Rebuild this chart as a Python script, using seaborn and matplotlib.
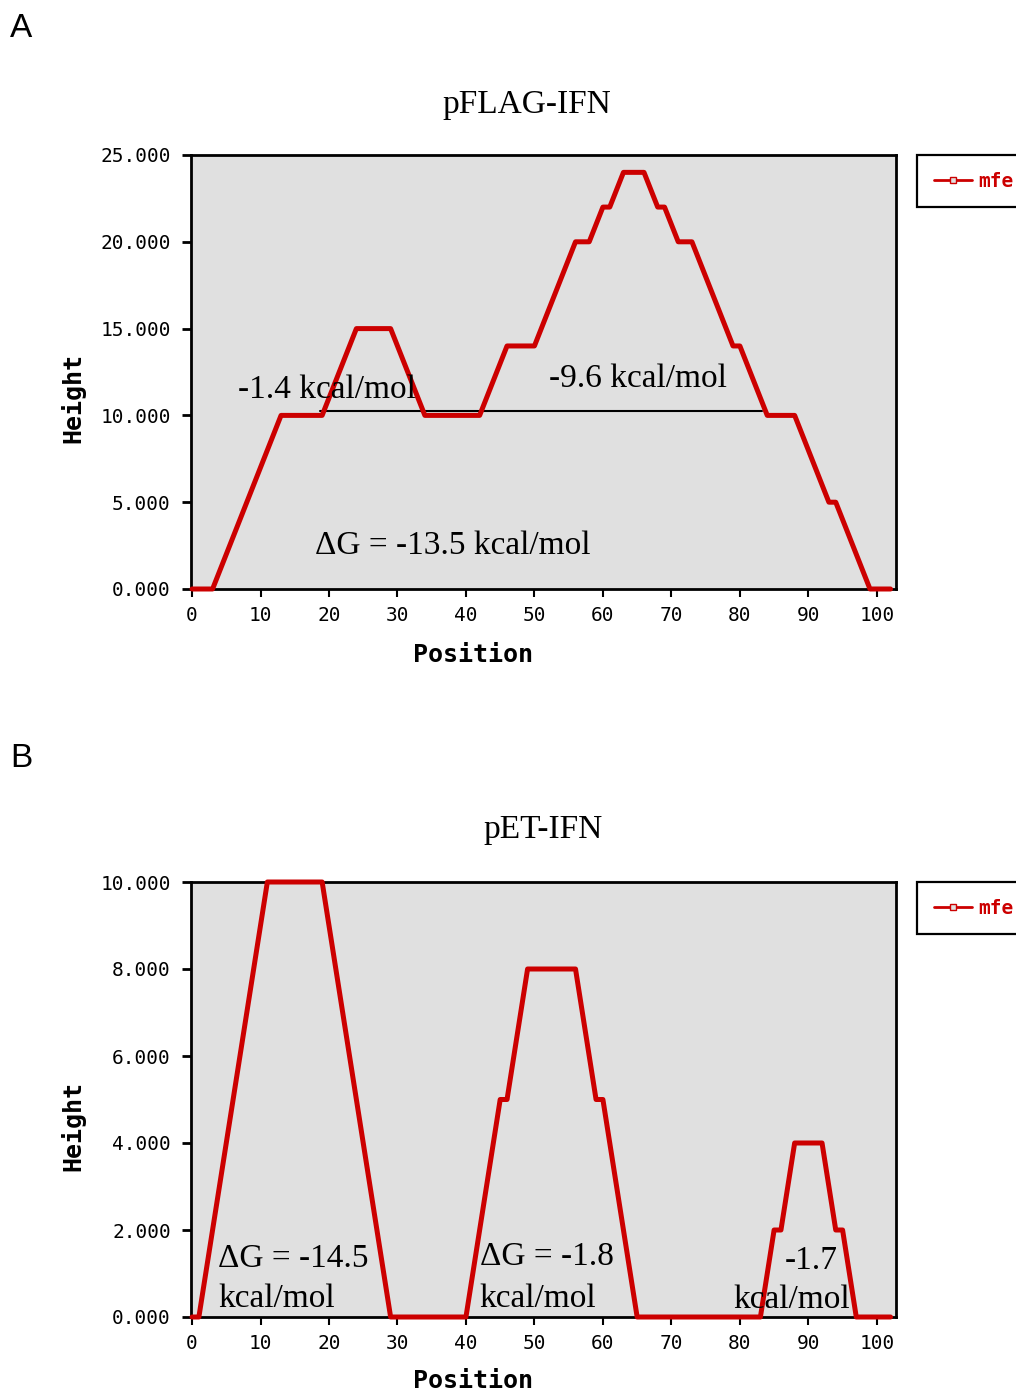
import matplotlib
matplotlib.use("Agg")
import matplotlib.pyplot as plt
from matplotlib.lines import Line2D
import seaborn as sns

# ── data: mountain plot heights per position ──────────────
heights_pflag = [0, 0, 0, 0,
                 1, 2, 3, 4, 5, 6, 7, 8, 9, 10,
                 10, 10, 10, 10, 10, 10,
                 11, 12, 13, 14, 15,
                 15, 15, 15, 15, 15,
                 14, 13, 12, 11, 10,
                 10, 10, 10, 10, 10, 10, 10, 10,
                 11, 12, 13, 14,
                 14, 14, 14, 14,
                 15, 16, 17, 18, 19, 20,
                 20, 20,
                 21, 22,
                 22,
                 23, 24,
                 24, 24, 24,
                 23, 22,
                 22,
                 21, 20,
                 20, 20,
                 19, 18, 17, 16, 15, 14,
                 14,
                 13, 12, 11, 10,
                 10, 10, 10, 10,
                 9, 8, 7, 6, 5,
                 5,
                 4, 3, 2, 1, 0,
                 0, 0, 0]

heights_pet = [0, 0,
               1, 2, 3, 4, 5, 6, 7, 8, 9, 10,
               10, 10, 10, 10, 10, 10, 10, 10,
               9, 8, 7, 6, 5, 4, 3, 2, 1, 0,
               0, 0, 0, 0, 0, 0, 0, 0, 0, 0, 0,
               1, 2, 3, 4, 5,
               5,
               6, 7, 8,
               8, 8, 8, 8, 8, 8, 8,
               7, 6, 5,
               5,
               4, 3, 2, 1, 0,
               0, 0, 0, 0, 0, 0, 0, 0, 0, 0, 0, 0, 0, 0, 0, 0, 0, 0,
               1, 2,
               2,
               3, 4,
               4, 4, 4, 4,
               3, 2,
               2,
               1, 0,
               0, 0, 0, 0, 0]

positions_pflag = list(range(len(heights_pflag)))
positions_pet = list(range(len(heights_pet)))

xtick_vals = [0, 10, 20, 30, 40, 50, 60, 70, 80, 90, 100]
xtick_labels = ['0', '10', '20', '30', '40', '50', '60', '70', '80', '90', '100']
ytick_vals_a = [0, 5, 10, 15, 20, 25]
ytick_labels_a = ['0.000', '5.000', '10.000', '15.000', '20.000', '25.000']
ytick_vals_b = [0, 2, 4, 6, 8, 10]
ytick_labels_b = ['0.000', '2.000', '4.000', '6.000', '8.000', '10.000']

RED = '#CC0000'
MONO = 'DejaVu Sans Mono'
SERIF = 'Liberation Serif'

sns.set_style('white')
plt.rcParams['font.family'] = ['DejaVu Sans']
plt.rcParams['text.color'] = 'black'
plt.rcParams['axes.labelcolor'] = 'black'
plt.rcParams['xtick.color'] = 'black'
plt.rcParams['ytick.color'] = 'black'

W, H = 1016, 1393
fig = plt.figure(figsize=(W / 100, H / 100), dpi=100)


def make_panel(top_px, bottom_px, xs, ys, yvals, ylabels, ymax, xlab_px):
    hpx = bottom_px - top_px
    ax = fig.add_axes([191 / W, 1 - bottom_px / H, 705 / W, hpx / H])
    sns.lineplot(x=xs, y=ys, ax=ax, color=RED, linewidth=3.6, zorder=4)
    ax.lines[-1].set_clip_on(False)
    ax.set_facecolor('#E0E0E0')
    ax.set_xlim(-0.15, 102.8)
    ax.set_ylim(0, ymax)
    ax.set_xticks(xtick_vals, labels=xtick_labels)
    ax.set_yticks(yvals, labels=ylabels)
    for s in ax.spines.values():
        s.set_visible(True)
        s.set_color('black')
        s.set_linewidth(2)
    ax.tick_params(axis='y', direction='out', length=6.5, width=2, pad=8,
                   labelsize=14, left=True)
    ax.tick_params(axis='x', direction='out', length=5.5, width=1.5, pad=7,
                   labelsize=14, bottom=True)
    for lab in ax.get_xticklabels() + ax.get_yticklabels():
        lab.set_fontfamily(MONO)
    ax.set_xlabel('Position', fontfamily=MONO, fontweight='bold', fontsize=18)
    ax.set_ylabel('Height', fontfamily=MONO, fontweight='bold', fontsize=18)
    ax.xaxis.label.set_va('center')
    ax.yaxis.label.set_va('center')
    ax.xaxis.set_label_coords((473 - 191) / 705, -(xlab_px - bottom_px) / hpx)
    ax.yaxis.set_label_coords((73 - 191) / 705, 0.44)

    handle = Line2D([], [], color=RED, linewidth=2, marker='s', markersize=4,
                    markerfacecolor='#E0E0E0', markeredgecolor=RED)
    leg = ax.legend([handle], ['mfe'], loc='upper left',
                    bbox_to_anchor=(1.0298, 1.0), borderaxespad=0,
                    prop={'family': MONO, 'weight': 'bold', 'size': 14},
                    handlelength=2.0, handletextpad=0.3, borderpad=0.85,
                    fancybox=False, framealpha=1, edgecolor='black')
    leg.get_frame().set_linewidth(1.6)
    for t in leg.get_texts():
        t.set_color(RED)
    return ax


# ── panel A: pFLAG-IFN ───────────────────────────────────
ax_a = make_panel(155, 589, positions_pflag, heights_pflag,
                  ytick_vals_a, ytick_labels_a, 25, 655)
ax_a.plot([18.7, 83.2], [10.25, 10.25], color='black', linewidth=1.5, zorder=3)
ax_a.text(6.7, 11.0, '-1.4 kcal/mol', fontfamily=SERIF, fontsize=24, va='baseline', zorder=5)
ax_a.text(52.1, 11.63, '-9.6 kcal/mol', fontfamily=SERIF, fontsize=24, va='baseline', zorder=5)
ax_a.text(18.0, 2.0, 'ΔG = -13.5 kcal/mol', fontfamily=SERIF, fontsize=24, va='baseline', zorder=5)
fig.text(527 / W, 1 - 113 / H, 'pFLAG-IFN', fontfamily=SERIF, fontsize=24,
         ha='center', va='baseline')

# ── panel B: pET-IFN ─────────────────────────────────────
ax_b = make_panel(882, 1317, positions_pet, heights_pet,
                  ytick_vals_b, ytick_labels_b, 10, 1381)
for x, y, s in [(3.8, 1.15, 'ΔG = -14.5'), (3.8, 0.23, 'kcal/mol'),
                (42.0, 1.2, 'ΔG = -1.8'), (42.0, 0.23, 'kcal/mol'),
                (86.6, 1.1, '-1.7'), (79.0, 0.2, 'kcal/mol')]:
    ax_b.text(x, y, s, fontfamily=SERIF, fontsize=24, va='baseline', zorder=5)
fig.text(543 / W, 1 - 838 / H, 'pET-IFN', fontfamily=SERIF, fontsize=24,
         ha='center', va='baseline')

# panel letters
fig.text(10 / W, 1 - 37 / H, 'A', fontfamily='Liberation Sans', fontsize=24, va='baseline')
fig.text(10 / W, 1 - 767 / H, 'B', fontfamily='Liberation Sans', fontsize=24, va='baseline')

fig.savefig('out.png', dpi=100)
